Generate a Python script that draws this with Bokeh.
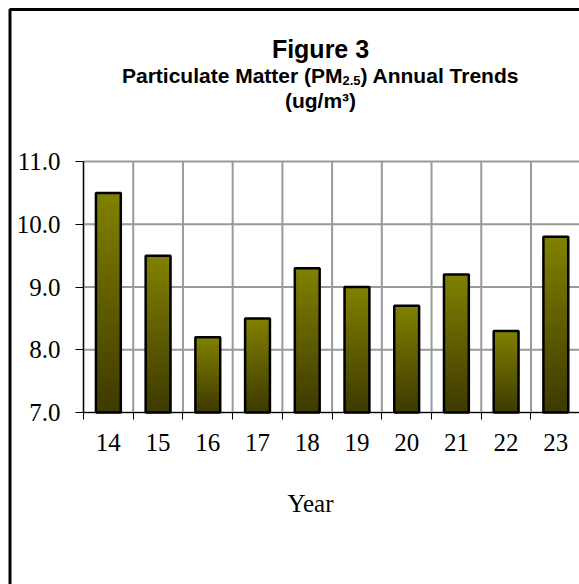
import numpy as np
from bokeh.plotting import figure
from bokeh.models import Range1d, FixedTicker, PrintfTickFormatter, Label, BoxAnnotation
from bokeh.embed import file_html
from bokeh.resources import INLINE

# Annual PM2.5 means (ug/m3), by two-digit year
years = ["14", "15", "16", "17", "18", "19", "20", "21", "22", "23"]
pm25 = [10.5, 9.5, 8.2, 8.5, 9.3, 9.0, 8.7, 9.2, 8.3, 9.8]
y_ticks = [7.0, 8.0, 9.0, 10.0, 11.0]

BASE = 7.0
BAR_W = 0.5
N_BANDS = 40
TOP_RGB = np.array([128, 128, 0])
BOTTOM_RGB = np.array([62, 58, 0])

# page geometry (pixels)
W, H = 579, 584
AXIS_X_PX = 83        # where the value axis sits
AXIS_Y_PX = 412       # where the category axis sits
PX_PER_CAT = 49.72
PX_PER_UNIT = 62.75

def dx(px):
    return (px - AXIS_X_PX) / PX_PER_CAT

def dy(py):
    return BASE + (AXIS_Y_PX - py) / PX_PER_UNIT

# the frame covers the whole page so the heading and border can live inside it
p = figure(width=W, height=H, output_backend="svg", toolbar_location=None,
           title=None,
           x_range=Range1d(dx(0), dx(W)), y_range=Range1d(dy(H), dy(0)),
           min_border=0, min_border_left=0, min_border_right=0,
           min_border_top=0, min_border_bottom=0)
p.outline_line_color = None
p.background_fill_color = "white"
p.border_fill_color = "white"
p.xgrid.visible = False
p.ygrid.visible = False

n = len(years)
centers = [i + 0.5 for i in range(n)]
bounds = list(range(n + 1))

# grid lines, limited to the plotting area
p.segment(x0=bounds, x1=bounds, y0=[y_ticks[0]] * len(bounds), y1=[y_ticks[-1]] * len(bounds),
          line_color="#999999", line_width=2)
p.segment(x0=[0] * len(y_ticks), x1=[n] * len(y_ticks), y0=y_ticks, y1=y_ticks,
          line_color="#999999", line_width=2)

# vertical gradient for each bar, built from stacked bands (dark bottom -> olive top)
lefts, rights, bottoms, tops, colors = [], [], [], [], []
for c, v in zip(centers, pm25):
    h = (v - BASE) / N_BANDS
    for k in range(N_BANDS):
        t = k / (N_BANDS - 1)
        rgb = (BOTTOM_RGB + (TOP_RGB - BOTTOM_RGB) * t).round().astype(int)
        lefts.append(c - BAR_W / 2)
        rights.append(c + BAR_W / 2)
        bottoms.append(BASE + k * h)
        tops.append(min(v, BASE + (k + 1.6) * h))
        colors.append("#%02x%02x%02x" % tuple(rgb))

p.quad(left=lefts, right=rights, bottom=bottoms, top=tops,
       fill_color=colors, line_color=None)
p.vbar(x=centers, top=pm25, bottom=BASE, width=BAR_W,
       fill_color=None, line_color="black", line_width=2.5)

# axes pinned inside the frame
p.xaxis.fixed_location = BASE
p.yaxis.fixed_location = 0
p.xaxis.bounds = (0, n)
p.yaxis.bounds = (y_ticks[0], y_ticks[-1])

# x axis: labels at category centres, ticks at category boundaries
p.xaxis.ticker = FixedTicker(ticks=centers, minor_ticks=bounds)
p.xaxis.major_label_overrides = {c: y for c, y in zip(centers, years)}
p.xaxis.major_tick_out = 0
p.xaxis.major_tick_in = 0
p.xaxis.minor_tick_out = 7
p.xaxis.minor_tick_in = 0
p.xaxis.minor_tick_line_color = "black"
p.xaxis.major_label_standoff = 14

p.yaxis.ticker = FixedTicker(ticks=y_ticks)
p.yaxis.formatter = PrintfTickFormatter(format="%.1f")
p.yaxis.major_tick_out = 8
p.yaxis.major_tick_in = 0
p.yaxis.minor_tick_line_color = None
p.yaxis.major_label_standoff = 15

for ax in (p.xaxis, p.yaxis):
    ax.axis_line_color = "black"
    ax.axis_line_width = 1.2
    ax.major_tick_line_color = "black"
    ax.major_label_text_font = "Liberation Serif"
    ax.major_label_text_font_size = "25px"
    ax.major_label_text_color = "black"

# chart border
p.add_layout(BoxAnnotation(left=dx(9.5), right=dx(W + 100), top=dy(9), bottom=dy(H + 100),
                           fill_color=None, fill_alpha=0,
                           line_color="black", line_alpha=1.0, line_width=3))

def add_text(x_px, y_px, text, size, bold=True, align="center", font="Liberation Sans"):
    p.add_layout(Label(x=dx(x_px), y=dy(y_px), text=text,
                       text_align=align, text_baseline="alphabetic",
                       text_font=font, text_font_size=size,
                       text_font_style="bold" if bold else "normal",
                       text_color="black"))

add_text(320, 48, "Figure 3", "25px")
add_text(342, 75, "Particulate Matter (PM", "21px", align="right")
add_text(342, 80, "2.5", "13px", align="left")
add_text(360, 75, ") Annual Trends", "21px", align="left")
add_text(320, 100, "(ug/m³)", "21px")
add_text(310, 503, "Year", "25px", bold=False, font="Liberation Serif")

open("out.html", "w").write(file_html(p, INLINE))
